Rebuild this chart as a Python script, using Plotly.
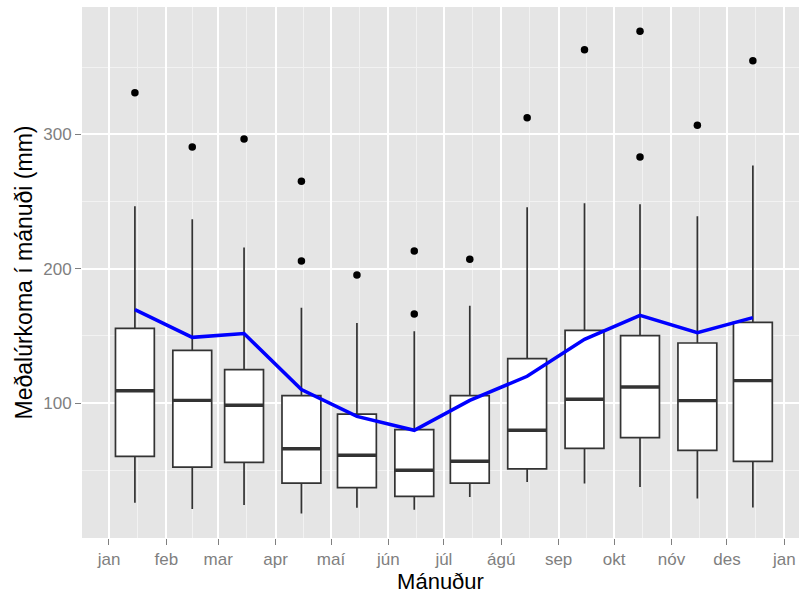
import pandas as pd
import plotly.graph_objects as go

# Monthly precipitation summary (mm)
month_labels = ["jan", "feb", "mar", "apr", "maí", "jún", "júl", "ágú", "sep", "okt", "nóv", "des", "jan"]
box_dates = ["2013-01-15", "2013-02-15", "2013-03-15", "2013-04-15", "2013-05-15", "2013-06-15",
             "2013-07-15", "2013-08-15", "2013-09-15", "2013-10-15", "2013-11-15", "2013-12-15"]

lower_whisker = [25.8, 21.1, 24.1, 17.8, 22.1, 20.6, 30.0, 41.2, 40.0, 37.5, 29.0, 22.3]
q1 = [60.3, 52.3, 55.8, 40.4, 37.0, 30.5, 40.4, 50.9, 66.3, 74.2, 64.8, 56.6]
median = [109.2, 102.0, 98.3, 66.0, 61.1, 49.9, 56.6, 79.7, 102.8, 111.9, 101.8, 116.7]
q3 = [155.6, 139.2, 124.9, 105.5, 91.8, 80.2, 105.5, 133.0, 154.1, 150.2, 144.7, 160.1]
upper_whisker = [246.5, 236.8, 215.9, 171.0, 159.6, 153.4, 172.5, 245.7, 248.7, 248.0, 239.0, 276.8]
monthly_mean = [169.5, 148.9, 151.7, 110.0, 90.1, 79.7, 102.0, 119.9, 147.4, 165.3, 152.4, 163.6]

outlier_dates = ["2013-01-15", "2013-02-15", "2013-03-15", "2013-04-15", "2013-04-15", "2013-05-15",
                 "2013-06-15", "2013-06-15", "2013-07-15", "2013-08-15", "2013-09-15", "2013-10-15",
                 "2013-10-15", "2013-11-15", "2013-12-15"]
outlier_values = [331.1, 290.6, 296.6, 265.1, 205.7, 195.3, 213.2, 166.3, 207.0, 312.5, 363.1, 376.8,
                  283.2, 306.8, 354.9]

BOX_DAYS = 21
box_width_ms = BOX_DAYS * 86400000
half = pd.Timedelta(days=BOX_DAYS / 2)

centers = pd.to_datetime(box_dates)
median_x, median_y = [], []
for c, m in zip(centers, median):
    median_x += [c - half, c + half, None]
    median_y += [m, m, None]

month_starts = pd.date_range("2013-01-01", "2014-01-01", freq="MS")
minor_x = [month_starts[i] + (month_starts[i + 1] - month_starts[i]) / 2 for i in range(len(month_starts) - 1)]

x_lo = pd.Timestamp("2013-01-01") - pd.Timedelta(days=14.59)
x_hi = pd.Timestamp("2013-01-01") + pd.Timedelta(days=372.93)

BOX_LINE = "#333333"
FONT = "Liberation Sans, Arial, Helvetica, sans-serif"

fig = go.Figure()

fig.add_trace(go.Box(
    x=box_dates, q1=q1, median=median, q3=q3,
    lowerfence=lower_whisker, upperfence=upper_whisker,
    width=box_width_ms, whiskerwidth=0, boxpoints=False,
    fillcolor="white", line=dict(color=BOX_LINE, width=1.7),
    hoverinfo="skip", showlegend=False,
))

fig.add_trace(go.Scatter(
    x=median_x, y=median_y, mode="lines",
    line=dict(color=BOX_LINE, width=3.4),
    hoverinfo="skip", showlegend=False,
))

fig.add_trace(go.Scatter(
    x=outlier_dates, y=outlier_values, mode="markers",
    marker=dict(color="black", size=7.5),
    hoverinfo="skip", showlegend=False,
))

fig.add_trace(go.Scatter(
    x=box_dates, y=monthly_mean, mode="lines",
    line=dict(color="#0000FF", width=3.5),
    hoverinfo="skip", showlegend=False,
))

fig.update_layout(
    width=799, height=594,
    margin=dict(l=82, r=0, t=7, b=56),
    paper_bgcolor="white",
    plot_bgcolor="#E5E5E5",
    font=dict(family=FONT),
    showlegend=False,
)

fig.update_xaxes(
    type="date",
    range=[x_lo, x_hi],
    tickmode="array",
    tickvals=list(month_starts),
    ticktext=month_labels,
    ticks="outside", ticklen=6, tickwidth=1.3, tickcolor="#7F7F7F",
    tickfont=dict(size=17, color="#7F7F7F", family=FONT),
    showgrid=True, gridcolor="white", gridwidth=1.7,
    minor=dict(tickmode="array", tickvals=minor_x, showgrid=True,
               gridcolor="#F2F2F2", gridwidth=1, ticks=""),
    zeroline=False, showline=False,
    title=dict(text="Mánuður", font=dict(size=22, color="black", family=FONT), standoff=4),
)

fig.update_yaxes(
    range=[-0.5, 394.9],
    tickmode="array",
    tickvals=[100, 200, 300],
    ticks="outside", ticklen=6, tickwidth=1.3, tickcolor="#7F7F7F",
    tickfont=dict(size=17, color="#7F7F7F", family=FONT),
    showgrid=True, gridcolor="white", gridwidth=1.7,
    minor=dict(tickmode="array", tickvals=[50, 150, 250, 350], showgrid=True,
               gridcolor="#F2F2F2", gridwidth=1, ticks=""),
    zeroline=False, showline=False,
    title=dict(text="Meðalúrkoma í mánuði (mm)", font=dict(size=23, color="black", family=FONT), standoff=4),
)

fig.write_html("out.html")
